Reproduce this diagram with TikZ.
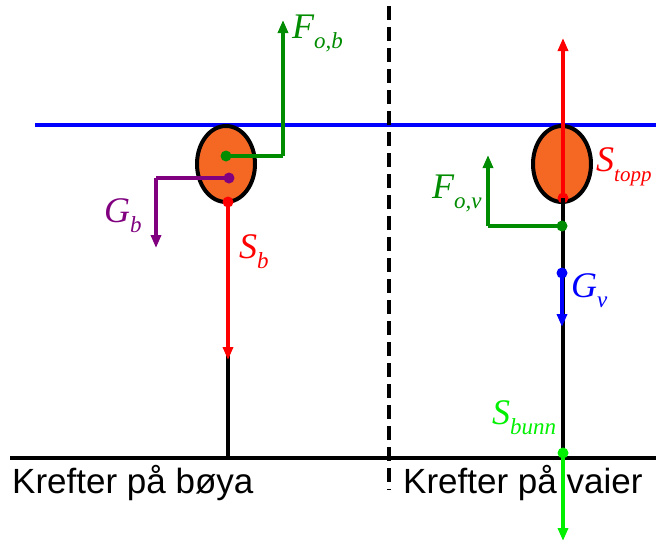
\documentclass[tikz,border=0pt]{standalone}
\usepackage{fontspec}
\setmainfont{Liberation Sans}
\newfontfamily\lblfont{Liberation Serif}
\usetikzlibrary{arrows.meta,shapes.geometric}
\definecolor{dgreen}{RGB}{0,140,0}
\definecolor{lgreen}{RGB}{0,240,0}
\definecolor{buoy}{RGB}{244,104,36}
\definecolor{purp}{RGB}{128,0,128}
\newcommand\lab[2]{{\lblfont\itshape\fontsize{36}{36}\selectfont #1\raisebox{-0.3em}{\fontsize{23}{23}\selectfont #2}}}
\begin{document}
\begin{tikzpicture}[x=1pt,y=-1pt,
  force/.style={line width=4pt,-{Triangle[length=13pt,width=10pt]}},
  seg/.style={line width=4pt},
  dotc/.style={circle,fill,inner sep=0pt,minimum size=11pt},
  buoystyle/.style={ellipse,draw=black,line width=4pt,fill=buoy,minimum width=58pt,minimum height=76pt,inner sep=0pt},
  lbl/.style={anchor=base west,inner sep=0pt},
  title/.style={anchor=base west,inner sep=0pt,font=\fontsize{35}{35}\selectfont}]
\useasboundingbox (0,0) rectangle (656,542);
% water surface and ground
\coordinate (wl) at (35,125); \coordinate (wr) at (656,125);
\coordinate (gl) at (10,458); \coordinate (gr) at (656,458);
\coordinate (dt) at (389,6); \coordinate (db) at (389,490);
\draw[blue,line width=4pt] (wl) -- (wr);
\draw[line width=4pt] (gl) -- (gr);
\draw[line width=4pt,dash pattern=on 14pt off 7pt] (dt) -- (db);
% left buoy
\node[buoystyle] (bl) at (226,164) {};
\coordinate (lbot) at (228,458);
\coordinate (lred) at (228,360);
\coordinate (lblk) at (228,354);
\draw[seg] (lblk) -- (lbot);
\node[dotc,dgreen] (fg) at (226,156) {};
\coordinate (fgc) at (283,156); \coordinate (fgt) at (283,20);
\draw[seg,dgreen] (fg.center) -- (fgc);
\draw[force,dgreen] (fgc) -- (fgt);
\node[dotc,purp] (gp) at (229,178) {};
\coordinate (gpc) at (156,178); \coordinate (gpt) at (156,248);
\draw[seg,purp] (gp.center) -- (gpc);
\draw[force,purp] (gpc) -- (gpt);
\node[dotc,red] (sr) at (228,202) {};
\draw[force,red] (sr.center) -- (lred);
\node[lbl,text=dgreen] (lFob) at (292,38) {\lab{F}{o,b}};
\node[lbl,text=purp] (lGb) at (104,222) {\lab{G}{b}};
\node[lbl,text=red] (lSb) at (239,258) {\lab{S}{b}};
% right buoy
\node[buoystyle] (br) at (562,164) {};
\coordinate (rbot) at (563,458);
\node[dotc,red] (st) at (563,198) {};
\coordinate (stt) at (563,38);
\draw[seg] (st.center) -- (rbot);
\draw[force,red] (st.center) -- (stt);
\node[dotc,dgreen] (fv) at (562,226) {};
\coordinate (fvc) at (488,226); \coordinate (fvt) at (488,155);
\draw[seg,dgreen] (fv.center) -- (fvc);
\draw[force,dgreen] (fvc) -- (fvt);
\node[dotc,blue] (gv) at (562,273) {};
\coordinate (gvt) at (562,327);
\draw[force,blue] (gv.center) -- (gvt);
\node[dotc,lgreen] (sbn) at (563,453) {};
\coordinate (sbt) at (563,541);
\draw[force,lgreen] (sbn.center) -- (sbt);
\node[lbl,text=red] (lSt) at (596,171) {{\lblfont\itshape\fontsize{36}{36}\selectfont S\raisebox{-0.3em}{\fontsize{21}{21}\selectfont topp}}};
\node[lbl,text=dgreen] (lFov) at (432,198) {\lab{F}{o,v}};
\node[lbl,text=blue] (lGv) at (571,297) {\lab{G}{v}};
\node[lbl,text=lgreen] (lSbu) at (492,424) {\lab{S}{bunn}};
% titles
\node[title] (t1) at (12,493) {Krefter på bøya};
\node[title] (t2) at (403,493) {Krefter på vaier};
\end{tikzpicture}
\end{document}
